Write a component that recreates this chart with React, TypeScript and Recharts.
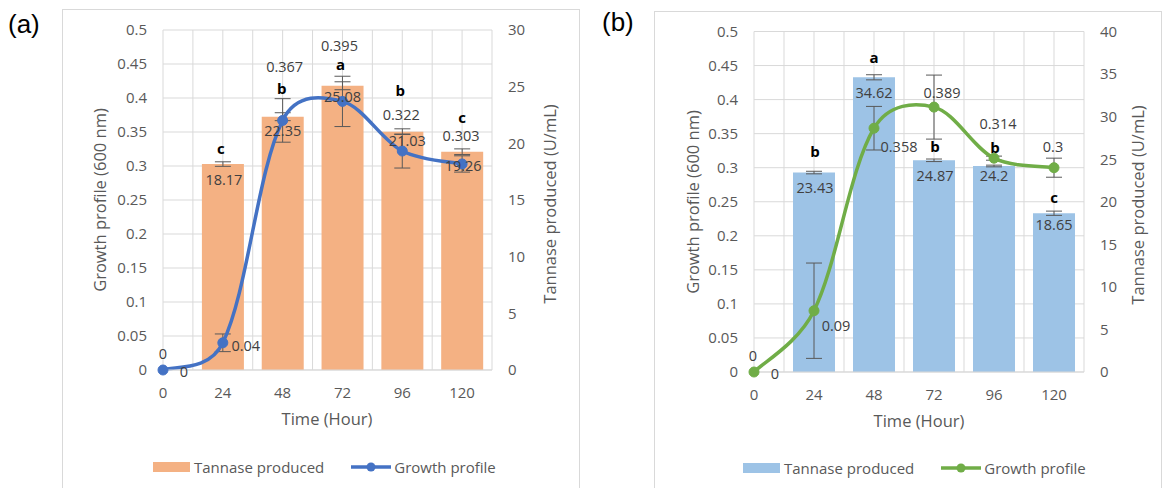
import React from "react";
import {
  ComposedChart,
  Bar,
  Line,
  XAxis,
  YAxis,
  CartesianGrid,
  ErrorBar,
  LabelList,
} from "recharts";

const hours = [0, 24, 48, 72, 96, 120];
const hourGrid = [0, 12, 24, 36, 48, 60, 72, 84, 96, 108, 120, 132];
const hourTicks = [0, 24, 48, 72, 96, 120];
const growthTicks = [0, 0.05, 0.1, 0.15, 0.2, 0.25, 0.3, 0.35, 0.4, 0.45, 0.5];
const tannaseTicksA = [0, 5, 10, 15, 20, 25, 30];
const tannaseTicksB = [0, 5, 10, 15, 20, 25, 30, 35, 40];

// panel (a)
const tannaseA = [0, 18.17, 22.35, 25.08, 21.03, 19.26];
const tannaseErrA = [0, 0.2, 0.35, 0.35, 0.25, 0.25];
const growthA = [0, 0.04, 0.367, 0.395, 0.322, 0.303];
const growthErrA = [0, 0.013, 0.032, 0.037, 0.025, 0.012];
const letterA = ["", "c", "b", "a", "b", "c"];

// panel (b)
const tannaseB = [0, 23.43, 34.62, 24.87, 24.2, 18.65];
const tannaseErrB = [0, 0.15, 0.3, 0.15, 0.1, 0.25];
const growthB = [0, 0.09, 0.358, 0.389, 0.314, 0.3];
const growthErrB = [0, 0.07, 0.032, 0.047, 0.003, 0.014];
const letterB = ["", "b", "a", "b", "b", "c"];

// label nudges (dx, dy) the way they sit in the original
const layoutA = {
  line: [[0, -17], [23, 3], [2, -54], [-3, -56], [-1, -37], [-1, -28]],
  bar: [[21, 1], [1, 15], [0, 14], [0, 11], [5, 9], [1, 14]],
  letter: [[0, 0], [-2, -16], [-1, -29], [-2, -22], [-2, -42], [0, -35]],
};
const layoutB = {
  line: [[-1, -17], [22, 15], [25, 18], [8, -15], [4, -35], [-1, -21]],
  bar: [[21, 1], [1, 15], [0, 15], [1, 15], [0, 10], [0, 11]],
  letter: [[0, 0], [1, -22], [0, -20], [1, -14], [1, -19], [0, -16]],
};

const FONT = "'Open Sans', sans-serif";
const GRID = "#d9d9d9";
const TICK = "#595959";

// Excel-like smoothed line: Catmull-Rom bezier, handles shortened next to short segments
function excelCurve(context: any) {
  let pts: number[][] = [];
  const dist = (a: number[], b: number[]) => Math.hypot(b[0] - a[0], b[1] - a[1]);
  return {
    areaStart() {},
    areaEnd() {},
    lineStart() {
      pts = [];
    },
    point(x: number, y: number) {
      pts.push([+x, +y]);
    },
    lineEnd() {
      const n = pts.length;
      if (!n) return;
      context.moveTo(pts[0][0], pts[0][1]);
      for (let i = 0; i < n - 1; i++) {
        const p0 = pts[Math.max(i - 1, 0)];
        const p1 = pts[i];
        const p2 = pts[i + 1];
        const p3 = pts[Math.min(i + 2, n - 1)];
        const seg = dist(p1, p2);
        const dPrev = dist(p0, p1);
        const dNext = dist(p2, p3);
        const s1 = dPrev > 0 ? (1 + (2 * seg) / (dPrev + seg)) / 2 : 1;
        const s2 = dNext > 0 ? (1 + (2 * seg) / (seg + dNext)) / 2 : 1;
        context.bezierCurveTo(
          p1[0] + ((p2[0] - p0[0]) / 6) * s1,
          p1[1] + ((p2[1] - p0[1]) / 6) * s1,
          p2[0] - ((p3[0] - p1[0]) / 6) * s2,
          p2[1] - ((p3[1] - p1[1]) / 6) * s2,
          p2[0],
          p2[1]
        );
      }
    },
  };
}

// the LabelList is keyed on "hour"; the text comes from `texts`
const makeLabel =
  (texts: (string | number)[], offsets: number[][], onBar: boolean, style: any) =>
  (props: any) => {
    const i = hours.indexOf(Number(props.value));
    if (i < 0) return null;
    const text = texts[i];
    if (text === "" || text == null) return null;
    const vb = props.viewBox || {};
    const x = props.x ?? vb.x;
    const y = props.y ?? vb.y;
    const w = onBar ? props.width ?? vb.width ?? 0 : 0;
    const [dx, dy] = offsets[i] || [0, 0];
    return (
      <text
        key={`l-${i}`}
        x={Number(x) + Number(w) / 2 + dx}
        y={Number(y) + dy}
        textAnchor="middle"
        dominantBaseline="central"
        {...style}
      >
        {String(text)}
      </text>
    );
  };

const labelStyle = { fill: "#404040", fontSize: 14.5 };
const letterStyle = { fill: "#000", fontSize: 15, fontWeight: 700 };

interface PanelProps {
  left: number;
  width: number;
  margin: { top: number; right: number; bottom: number; left: number };
  tannase: number[];
  tannaseErr: number[];
  growth: number[];
  growthErr: number[];
  letters: string[];
  rightTicks: number[];
  barColor: string;
  lineColor: string;
  layout: typeof layoutA;
}

function Panel(p: PanelProps) {
  const rows = hours.map((hour, i) => ({
    hour,
    tannase: p.tannase[i],
    tannaseErr: p.tannaseErr[i],
    growth: p.growth[i],
    growthErr: p.growthErr[i],
  }));
  const maxRight = p.rightTicks[p.rightTicks.length - 1];
  // a zero-height bar gets no label from Recharts, so its "0" rides on the line's first point
  const zeroBarText = p.tannase.map((v, i) => (i === 0 && v === 0 ? v : ""));

  return (
    <div style={{ position: "absolute", left: p.left, top: 0 }}>
      <ComposedChart width={p.width} height={488} data={rows} margin={p.margin}>
        <CartesianGrid yAxisId="left" stroke={GRID} verticalValues={hourGrid} />
        <XAxis
          dataKey="hour"
          type="number"
          domain={[0, 132]}
          ticks={hourTicks}
          interval={0}
          tickLine={false}
          axisLine={{ stroke: GRID }}
          tick={{ fill: TICK, fontSize: 15 }}
          tickMargin={11}
          height={30}
        />
        <YAxis
          yAxisId="left"
          domain={[0, 0.5]}
          ticks={growthTicks}
          interval={0}
          width={60}
          axisLine={false}
          tickLine={false}
          tickMargin={10}
          tick={{ fill: TICK, fontSize: 15 }}
        />
        <YAxis
          yAxisId="right"
          orientation="right"
          domain={[0, maxRight]}
          ticks={p.rightTicks}
          interval={0}
          width={50}
          axisLine={false}
          tickLine={false}
          tickMargin={10}
          tick={{ fill: TICK, fontSize: 15 }}
        />
        <Bar
          yAxisId="right"
          dataKey="tannase"
          fill={p.barColor}
          barSize={42}
          isAnimationActive={false}
        >
          <ErrorBar dataKey="tannaseErr" direction="y" width={8} stroke="#595959" strokeWidth={1} />
          <LabelList dataKey="hour" content={makeLabel(p.tannase, p.layout.bar, true, labelStyle)} />
          <LabelList dataKey="hour" content={makeLabel(p.letters, p.layout.letter, true, letterStyle)} />
        </Bar>
        <Line
          yAxisId="left"
          dataKey="growth"
          type={excelCurve as any}
          stroke={p.lineColor}
          strokeWidth={3.5}
          dot={{ r: 5, fill: p.lineColor, stroke: p.lineColor, strokeWidth: 1 }}
          isAnimationActive={false}
        >
          <ErrorBar dataKey="growthErr" direction="y" width={8} stroke="#595959" strokeWidth={1} />
          <LabelList dataKey="hour" content={makeLabel(p.growth, p.layout.line, false, labelStyle)} />
          <LabelList dataKey="hour" content={makeLabel(zeroBarText, p.layout.bar, false, labelStyle)} />
        </Line>
      </ComposedChart>
    </div>
  );
}

const abs = (x: number, y: number, extra: any = {}) => ({
  position: "absolute" as const,
  left: x,
  top: y,
  ...extra,
});

function VTitle({ x, y, text }: { x: number; y: number; text: string }) {
  return (
    <div
      style={abs(x, y, {
        transform: "translate(-50%, -50%) rotate(-90deg)",
        whiteSpace: "nowrap",
        fontSize: 16.5,
        color: TICK,
      })}
    >
      {text}
    </div>
  );
}

function HTitle({ x, y, text }: { x: number; y: number; text: string }) {
  return (
    <div
      style={abs(x, y, {
        transform: "translate(-50%, -50%)",
        whiteSpace: "nowrap",
        fontSize: 16.5,
        color: TICK,
      })}
    >
      {text}
    </div>
  );
}

function LegendRow({ x, y, barColor, lineColor }: { x: number; y: number; barColor: string; lineColor: string }) {
  return (
    <div style={abs(x, y, { display: "flex", alignItems: "center", fontSize: 15, color: TICK, whiteSpace: "nowrap", transform: "translateY(-50%)" })}>
      <svg width={37} height={10} style={{ marginRight: 4 }}>
        <rect width={37} height={10} fill={barColor} />
      </svg>
      <span>Tannase produced</span>
      <svg width={40} height={10} style={{ marginLeft: 27, marginRight: 3 }}>
        <line x1={0} y1={5} x2={40} y2={5} stroke={lineColor} strokeWidth={3.5} />
        <circle cx={20} cy={5} r={4.5} fill={lineColor} />
      </svg>
      <span>Growth profile</span>
    </div>
  );
}

export default function App() {
  return (
    <div
      style={{
        position: "absolute",
        left: 0,
        top: 0,
        width: 1163,
        height: 488,
        overflow: "hidden",
        background: "#fff",
        fontFamily: FONT,
      }}
    >
      <div style={abs(62, 9, { width: 518, height: 500, border: `1px solid ${GRID}`, boxSizing: "border-box" })} />
      <div style={abs(654, 11, { width: 508, height: 500, border: `1px solid ${GRID}`, boxSizing: "border-box" })} />

      <div style={abs(8, 9, { fontSize: 26, fontFamily: "'Liberation Sans', Arial, sans-serif", color: "#000" })}>(a)</div>
      <div style={abs(602, 7, { fontSize: 26, fontFamily: "'Liberation Sans', Arial, sans-serif", color: "#000" })}>(b)</div>

      <Panel
        left={0}
        width={580}
        margin={{ top: 30, right: 38, bottom: 88, left: 103 }}
        tannase={tannaseA}
        tannaseErr={tannaseErrA}
        growth={growthA}
        growthErr={growthErrA}
        letters={letterA}
        rightTicks={tannaseTicksA}
        barColor="#F4B183"
        lineColor="#4472C4"
        layout={layoutA}
      />
      <Panel
        left={590}
        width={573}
        margin={{ top: 31.5, right: 29, bottom: 86, left: 104 }}
        tannase={tannaseB}
        tannaseErr={tannaseErrB}
        growth={growthB}
        growthErr={growthErrB}
        letters={letterB}
        rightTicks={tannaseTicksB}
        barColor="#9DC3E6"
        lineColor="#70AD47"
        layout={layoutB}
      />

      <VTitle x={99} y={200} text="Growth profile (600 nm)" />
      <VTitle x={549} y={204} text="Tannase produced (U/mL)" />
      <HTitle x={327} y={418} text="Time (Hour)" />
      <LegendRow x={153} y={467} barColor="#F4B183" lineColor="#4472C4" />

      <VTitle x={692} y={202} text="Growth profile (600 nm)" />
      <VTitle x={1137} y={205} text="Tannase produced (U/mL)" />
      <HTitle x={919} y={420} text="Time (Hour)" />
      <LegendRow x={743} y={468} barColor="#9DC3E6" lineColor="#70AD47" />
    </div>
  );
}
